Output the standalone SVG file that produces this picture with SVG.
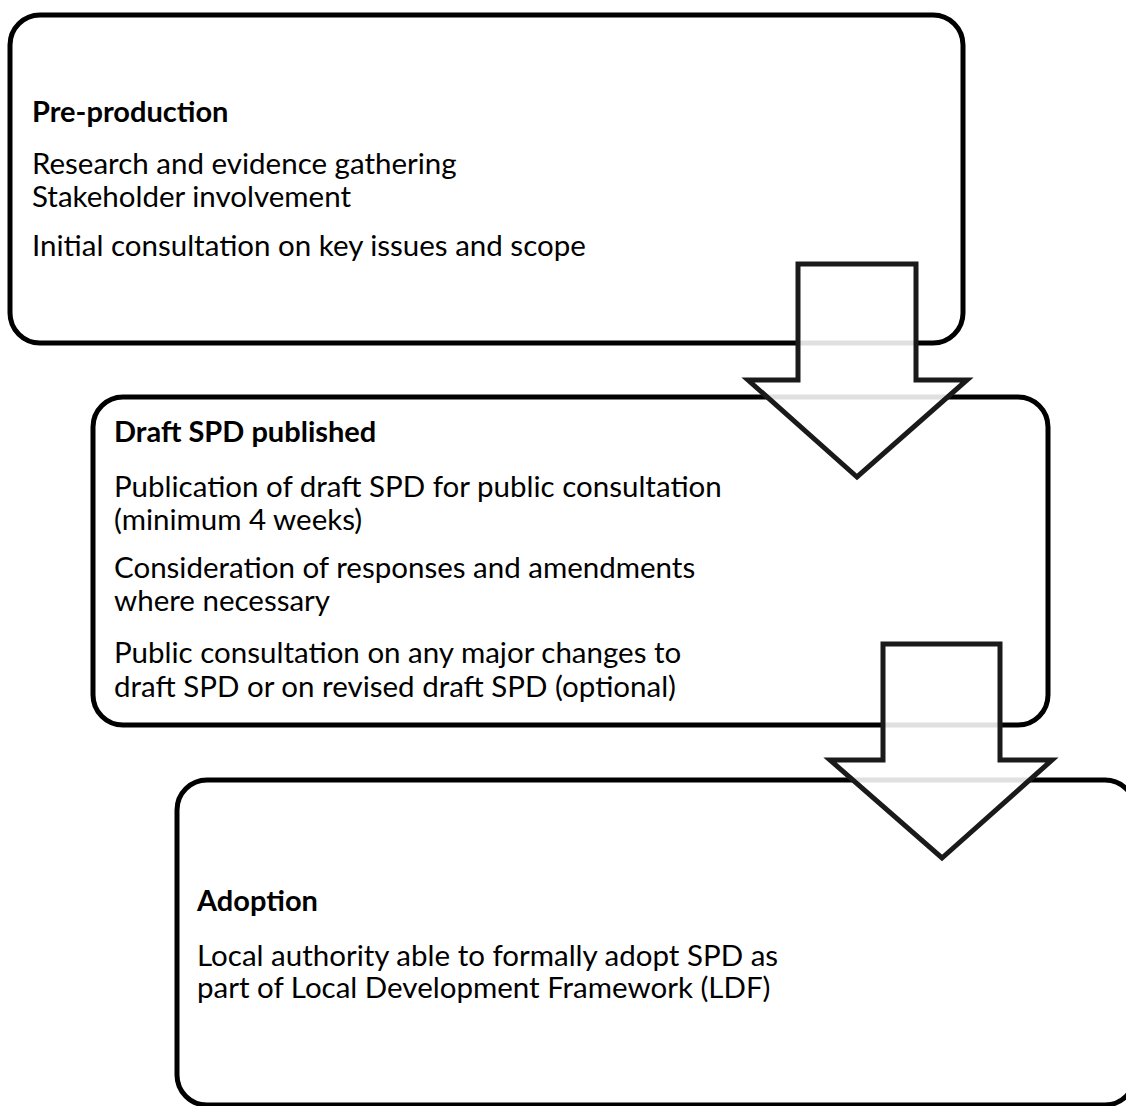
<svg xmlns="http://www.w3.org/2000/svg" width="1126" height="1106" viewBox="0 0 1126 1106">
<style>
.box{fill:#fff;stroke:#000;stroke-width:5}
.arrow{fill:#fff;fill-opacity:0.88;stroke:#1a1a1a;stroke-width:5;stroke-linejoin:miter}
text{font-family:"Lato","Liberation Sans",sans-serif;font-size:29.5px;fill:#000}
.h{font-weight:bold;font-size:29px}
</style>
<rect width="1126" height="1106" fill="#fff"/>
<g id="node-preproduction">
<rect class="box" x="10" y="15" width="953" height="328" rx="30"/>
<text class="h" x="32" y="122">Pre-production</text>
<text x="32" y="174">Research and evidence gathering</text>
<text x="32" y="207">Stakeholder involvement</text>
<text x="32" y="256">Initial consultation on key issues and scope</text>
</g>
<g id="node-draft">
<rect class="box" x="93" y="397" width="955" height="328" rx="30"/>
<text class="h" x="114" y="442">Draft SPD published</text>
<text x="114" y="497">Publication of draft SPD for public consultation</text>
<text x="114" y="530">(minimum 4 weeks)</text>
<text x="114" y="578">Consideration of responses and amendments</text>
<text x="114" y="611">where necessary</text>
<text x="114" y="663">Public consultation on any major changes to</text>
<text x="114" y="697">draft SPD or on revised draft SPD (optional)</text>
</g>
<g id="node-adoption">
<rect class="box" x="177" y="780" width="958" height="325" rx="30"/>
<text class="h" x="197" y="911">Adoption</text>
<text x="197" y="966">Local authority able to formally adopt SPD as</text>
<text x="197" y="998">part of Local Development Framework (LDF)</text>
</g>
<g id="connectors">
<polygon class="arrow" points="798,264 916,264 916,380 967,380 857,477 748,380 798,380"/>
<polygon class="arrow" points="883,644 1000,644 1000,760 1052,760 942,858 830,760 883,760"/>
</g>
</svg>
